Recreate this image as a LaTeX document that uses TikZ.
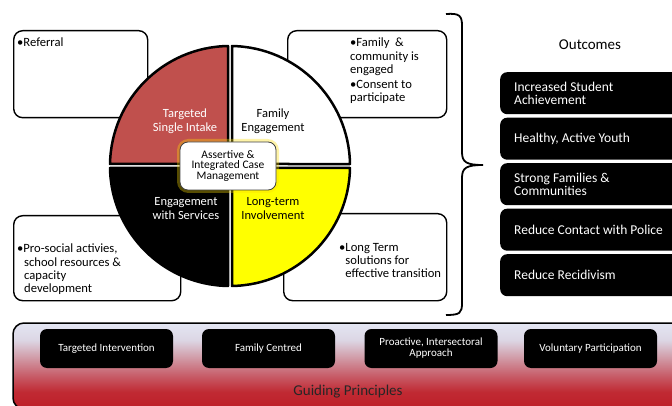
\documentclass[tikz,border=0pt]{standalone}
\usepackage{fontspec}
\setmainfont{Carlito}
\definecolor{qred}{HTML}{C0504D}
\definecolor{qyellow}{HTML}{FFFF00}
\definecolor{gplight}{HTML}{E3E6F3}
\definecolor{gplight2}{HTML}{DCD6E4}
\definecolor{gpmid}{HTML}{D19CA8}
\definecolor{gpmid2}{HTML}{C8606C}
\definecolor{gpred2}{HTML}{C02A33}
\definecolor{gpred}{HTML}{BE1E28}
\pgfdeclareverticalshading{gpshade}{100bp}{color(0bp)=(gpred); color(25bp)=(gpred); color(35bp)=(gpred2); color(45bp)=(gpmid2); color(55bp)=(gpmid); color(65bp)=(gplight2); color(75bp)=(gplight); color(100bp)=(gplight)}
\begin{document}
\begin{tikzpicture}[x=1pt,y=-1pt,
  infobox/.style={draw=black, line width=1.4pt, rounded corners=9pt, fill=white, anchor=north west, inner sep=0pt},
  quad/.style={draw=black, line width=2.5pt, line join=round},
  boxtxt/.style={anchor=north west, inner sep=0pt, align=left, font=\fontsize{12.6}{13.3}\selectfont},
  qlabel/.style={inner sep=0pt, align=center, font=\fontsize{12.5}{14}\selectfont},
  outbox/.style={fill=black, rounded corners=7pt, minimum width=200pt, minimum height=42pt, anchor=north west, inner sep=0pt},
  outtxt/.style={anchor=west, inner sep=0pt, align=left, text=white, font=\fontsize{13.5}{13}\selectfont},
  pbox/.style={fill=black, rounded corners=7pt, minimum height=39pt, minimum width=133pt, inner sep=0pt, text=white, align=center, font=\fontsize{11}{11}\selectfont},
]
\useasboundingbox (0,0) rectangle (672,406);
\clip (0,0) rectangle (672,406);
\fill[white] (0,0) rectangle (672,406);

% information boxes
\node[infobox, minimum width=134pt, minimum height=87pt] (refbox) at (13,30) {};
\node[infobox, minimum width=159pt, minimum height=87pt] (fambox) at (287,30) {};
\node[infobox, minimum width=167pt, minimum height=85pt] (probox) at (13,215) {};
\node[infobox, minimum width=163pt, minimum height=87pt] (longbox) at (283,213) {};

\node[boxtxt] (t1) at (17,38) {•Referral};
\node[boxtxt] (t2) at (350,38) {•Family\ \ \&\\community is\\engaged\\[1.5pt]•Consent to\\participate};
\node[boxtxt] (t3) at (339,243) {•Long Term\\\hphantom{•}solutions for\\\hphantom{•}effective transition};
\node[boxtxt] (t4) at (17,244) {•Pro-social activies,\\\hspace*{7pt}school resources \&\\\hspace*{7pt}capacity\\\hspace*{7pt}development};

% circle quadrants
\filldraw[quad, fill=qred] (228,164) -- (110.02,164) arc[start angle=180.955, end angle=269.045, radius=120] -- cycle;
\filldraw[quad, fill=white] (232,164) -- (232,46.02) arc[start angle=270.955, end angle=359.045, radius=120] -- cycle;
\filldraw[quad, fill=qyellow] (232,168) -- (349.98,168) arc[start angle=0.955, end angle=89.045, radius=120] -- cycle;
\filldraw[quad, fill=black] (228,168) -- (228,285.98) arc[start angle=90.955, end angle=179.045, radius=120] -- cycle;

\node[qlabel, text=white] (q1) at (185,121) {Targeted\\Single Intake};
\node[qlabel] (q2) at (273,121) {Family\\Engagement};
\node[qlabel, text=white] (q3) at (186,209) {Engagement\\with Services};
\node[qlabel] (q4) at (273,209) {Long-term\\Involvement};

% centre box
\node[draw=yellow!80!orange, line width=5pt, opacity=0.35, rounded corners=9pt, minimum width=97pt, minimum height=49pt, inner sep=0pt] (glow) at (228,166) {};
\node[draw=black!75, line width=0.8pt, fill=white, rounded corners=8pt, minimum width=96pt, minimum height=48pt, inner sep=0pt, align=center, font=\fontsize{11.5}{10.8}\selectfont] (cm) at (228,166) {Assertive \&\\Integrated Case\\Management};

% brace
\coordinate (btop) at (446,14);
\coordinate (btip) at (483,165);
\coordinate (bbot) at (446,315);
\draw[line width=1.8pt] (btop) .. controls (460,13) and (462,16) .. (462,26) -- (462,152) .. controls (462,162) and (466,165) .. (btip) .. controls (466,165) and (462,168) .. (462,178) -- (462,303) .. controls (462,313) and (460,315) .. (bbot);

% outcomes
\node[font=\fontsize{15}{15}\selectfont] (outc) at (590,45) {Outcomes};
\node[outbox] (o1) at (500,72) {};
\node[outbox] (o2) at (500,117.5) {};
\node[outbox] (o3) at (500,163) {};
\node[outbox] (o4) at (500,208.5) {};
\node[outbox] (o5) at (500,254) {};
\node[outtxt] (ot1) at ([xshift=14pt]o1.west) {Increased Student\\Achievement};
\node[outtxt] (ot2) at ([xshift=14pt]o2.west) {Healthy, Active Youth};
\node[outtxt] (ot3) at ([xshift=14pt]o3.west) {Strong Families \&\\Communities};
\node[outtxt] (ot4) at ([xshift=14pt]o4.west) {Reduce Contact with Police};
\node[outtxt] (ot5) at ([xshift=14pt]o5.west) {Reduce Recidivism};

% guiding principles panel
\shadedraw[shading=gpshade, draw=black, line width=1.5pt, rounded corners=11pt] (13,323) rectangle (720,409);
\node[pbox] (p1) at (106.5,348.5) {Targeted Intervention};
\node[pbox] (p2) at (268.5,348.5) {Family Centred};
\node[pbox] (p3) at (431,348.5) {Proactive, Intersectoral\\Approach};
\node[pbox] (p4) at (590.5,348.5) {Voluntary Participation};
\node[font=\fontsize{15}{15}\selectfont, text=black!85] (gp) at (348,392) {Guiding Principles};
\end{tikzpicture}
\end{document}
